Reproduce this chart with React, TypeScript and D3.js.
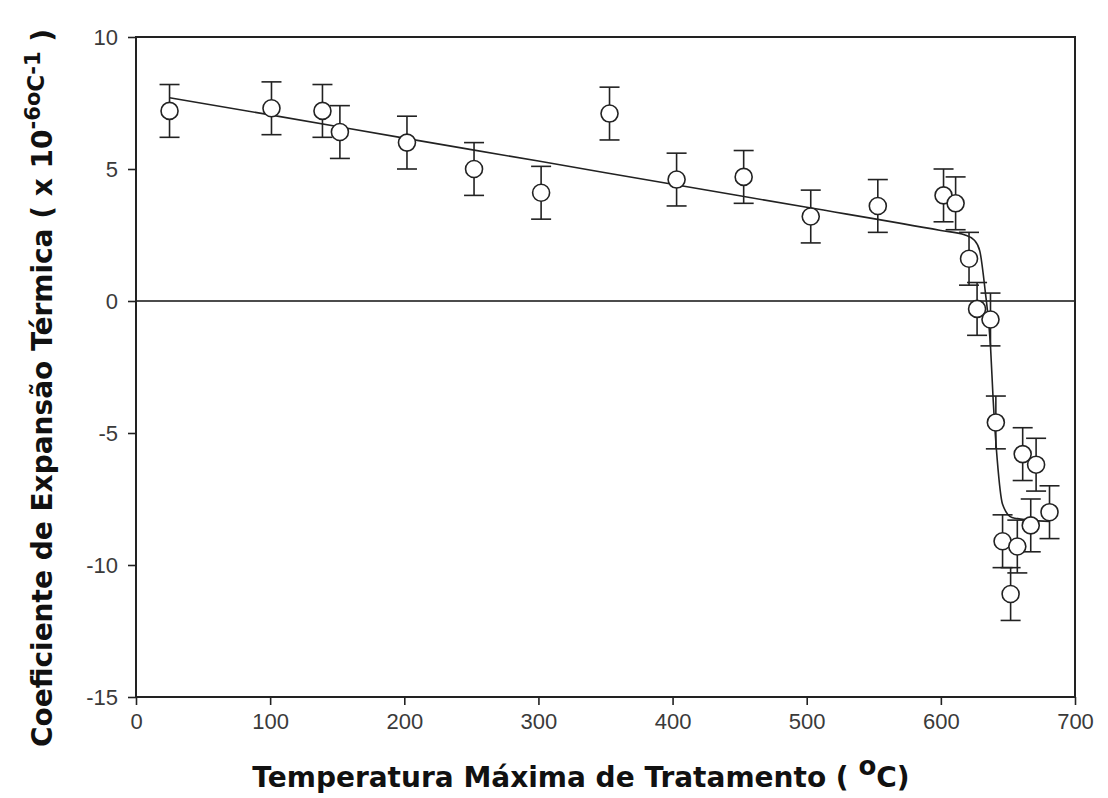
import { useEffect, useRef } from 'react';
import * as d3 from 'd3';

// measured points (temperature in °C, coefficient x 1e-6 /°C, error bar half-height)
const temps = [25, 101, 139, 152, 202, 252, 302, 353, 403, 453, 503, 553, 602, 611, 621, 627, 637, 641, 646, 652, 657, 661, 667, 671, 681];
const coefs = [7.2, 7.3, 7.2, 6.4, 6.0, 5.0, 4.1, 7.1, 4.6, 4.7, 3.2, 3.6, 4.0, 3.7, 1.6, -0.3, -0.7, -4.6, -9.1, -11.1, -9.3, -5.8, -8.5, -6.2, -8.0];
const errors = [1.0, 1.0, 1.0, 1.0, 1.0, 1.0, 1.0, 1.0, 1.0, 1.0, 1.0, 1.0, 1.0, 1.0, 1.0, 1.0, 1.0, 1.0, 1.0, 1.0, 1.0, 1.0, 1.0, 1.0, 1.0];

// fitted curve
const fitX = [25, 100, 200, 300, 400, 500, 600, 618, 625, 629, 633, 637, 639, 642, 646, 653, 667, 681];
const fitY = [7.7, 7.05, 6.17, 5.3, 4.42, 3.55, 2.67, 2.5, 2.3, 1.9, 0.4, -1.7, -3.75, -6.0, -7.7, -8.2, -8.3, -8.35];

const xTicks = [0, 100, 200, 300, 400, 500, 600, 700];
const yTicks = [-15, -10, -5, 0, 5, 10];

const W = 1108;
const H = 798;
const margin = { top: 37, right: 33, bottom: 101, left: 136 };

export default function App() {
  const svgRef = useRef<SVGSVGElement>(null);

  useEffect(() => {
    if (!svgRef.current) return;
    const svg = d3.select(svgRef.current);
    svg.selectAll('*').remove();

    const x = d3.scaleLinear().domain([0, 700]).range([margin.left, W - margin.right]);
    const y = d3.scaleLinear().domain([-15, 10]).range([H - margin.bottom, margin.top]);

    svg.append('rect').attr('width', W).attr('height', H).attr('fill', '#fff');

    // zero line
    svg
      .append('line')
      .attr('x1', x(0))
      .attr('x2', x(700))
      .attr('y1', y(0))
      .attr('y2', y(0))
      .attr('stroke', '#111')
      .attr('stroke-width', 1.6);

    // fitted curve
    const line = d3
      .line<number>()
      .x((d, i) => x(fitX[i]))
      .y((d) => y(d))
      .curve(d3.curveMonotoneX);
    svg
      .append('path')
      .attr('d', line(fitY))
      .attr('fill', 'none')
      .attr('stroke', '#222')
      .attr('stroke-width', 1.6);

    // error bars
    const pts = temps.map((t, i) => ({ t, v: coefs[i], e: errors[i] }));
    const eb = svg.append('g').attr('stroke', '#222').attr('stroke-width', 1.6);
    pts.forEach((p) => {
      eb.append('line')
        .attr('x1', x(p.t))
        .attr('x2', x(p.t))
        .attr('y1', y(p.v + p.e))
        .attr('y2', y(p.v - p.e));
      [p.v + p.e, p.v - p.e].forEach((v) => {
        eb.append('line')
          .attr('x1', x(p.t) - 10)
          .attr('x2', x(p.t) + 10)
          .attr('y1', y(v))
          .attr('y2', y(v));
      });
    });

    // markers
    svg
      .append('g')
      .selectAll('circle')
      .data(pts)
      .join('circle')
      .attr('cx', (d) => x(d.t))
      .attr('cy', (d) => y(d.v))
      .attr('r', 8.5)
      .attr('fill', '#fff')
      .attr('stroke', '#222')
      .attr('stroke-width', 1.6);

    // frame
    svg
      .append('rect')
      .attr('x', x(0))
      .attr('y', y(10))
      .attr('width', x(700) - x(0))
      .attr('height', y(-15) - y(10))
      .attr('fill', 'none')
      .attr('stroke', '#222')
      .attr('stroke-width', 2);

    // axes
    const xAxis = svg
      .append('g')
      .attr('transform', `translate(0,${y(-15)})`)
      .call(d3.axisBottom(x).tickValues(xTicks).tickSize(8).tickPadding(8));
    const yAxis = svg
      .append('g')
      .attr('transform', `translate(${x(0)},0)`)
      .call(d3.axisLeft(y).tickValues(yTicks).tickSize(8).tickPadding(10).tickFormat((d) => String(d)));
    [xAxis, yAxis].forEach((g) => {
      g.select('.domain').remove();
      g.selectAll('line').attr('stroke', '#222').attr('stroke-width', 1.6);
      g.selectAll('text')
        .attr('font-family', 'Liberation Sans, Arial, sans-serif')
        .attr('font-size', 22)
        .attr('fill', '#3a3a3a');
    });

    // axis titles
    const titleFont = 'DejaVu Sans, Verdana, sans-serif';
    const xt = svg
      .append('text')
      .attr('x', 581)
      .attr('y', 787)
      .attr('text-anchor', 'middle')
      .attr('font-family', titleFont)
      .attr('font-weight', 'bold')
      .attr('font-size', 28)
      .attr('fill', '#111');
    xt.append('tspan').text('Temperatura Máxima de Tratamento ( ');
    xt.append('tspan').attr('dy', -12).attr('font-size', 26).text('o');
    xt.append('tspan').attr('dy', 12).text('C)');

    const yt = svg
      .append('text')
      .attr('transform', `translate(52,${388}) rotate(-90)`)
      .attr('text-anchor', 'middle')
      .attr('font-family', titleFont)
      .attr('font-weight', 'bold')
      .attr('font-size', 28)
      .attr('fill', '#111');
    yt.append('tspan').text('Coeficiente de Expansão Térmica ( x 10');
    yt.append('tspan').attr('dy', -12).attr('font-size', 21).text('-6');
    yt.append('tspan').attr('font-size', 21).text('o');
    yt.append('tspan').attr('dy', 4).attr('font-size', 23).text('C');
    yt.append('tspan').attr('dy', -4).attr('font-size', 21).text('-1');
    yt.append('tspan').attr('dy', 12).text(' )');
  }, []);

  return (
    <div style={{ position: 'absolute', left: 0, top: 0 }}>
      <svg ref={svgRef} width={W} height={H} style={{ display: 'block' }} />
    </div>
  );
}
